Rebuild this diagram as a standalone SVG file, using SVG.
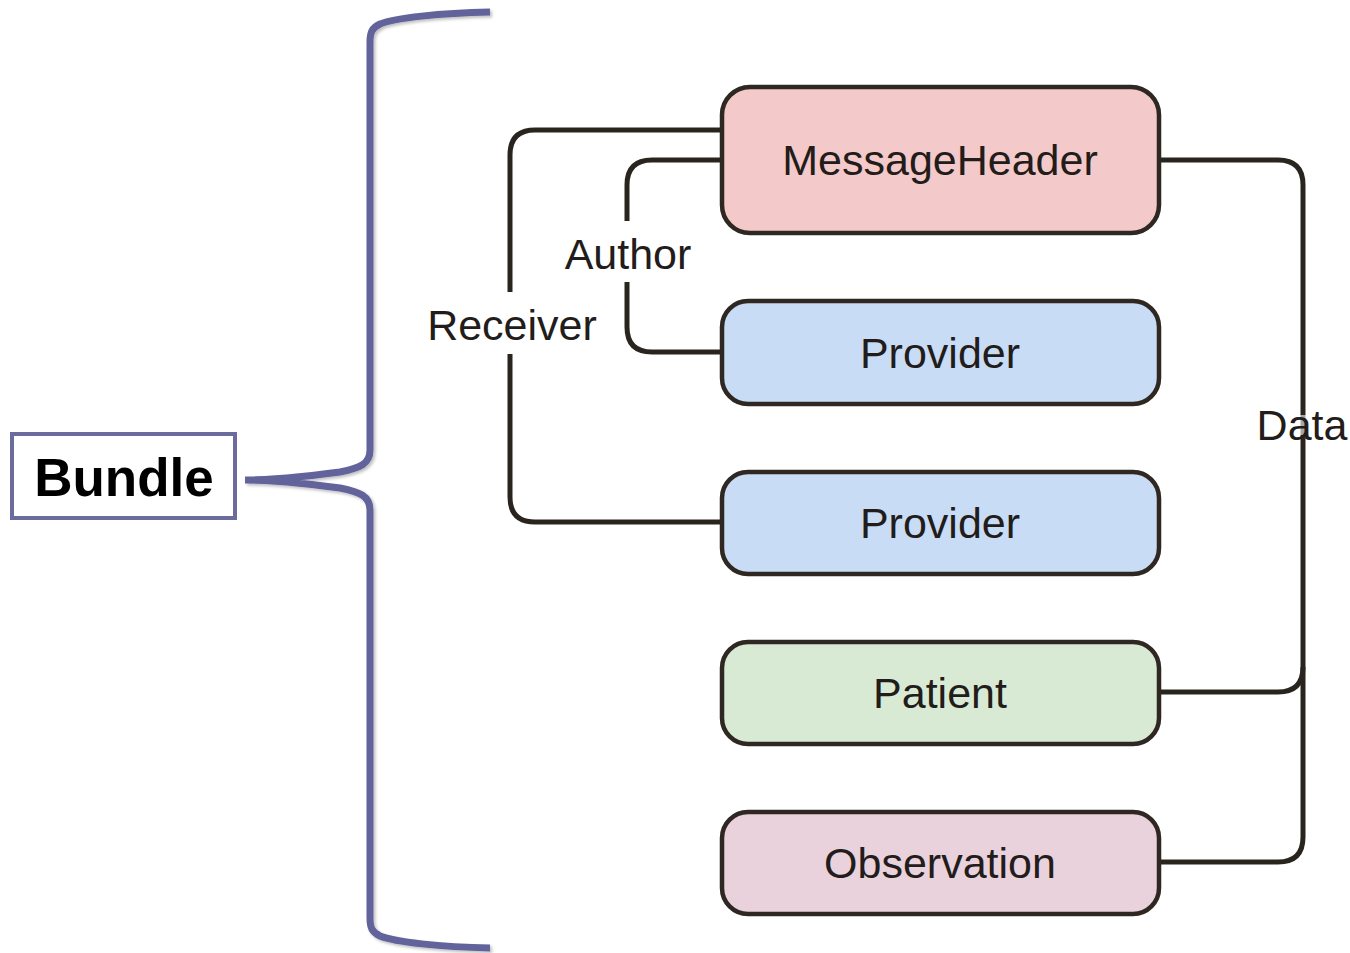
<svg xmlns="http://www.w3.org/2000/svg" width="1350" height="953" viewBox="0 0 1350 953">
  <defs>
    <filter id="soft" x="-10%" y="-10%" width="130%" height="130%">
      <feDropShadow dx="2" dy="2" stdDeviation="1.5" flood-color="#000" flood-opacity="0.25"/>
    </filter>
    <style>
      .node rect { stroke: #2e2722; stroke-width: 4.5; }
      .node text { font-family: "Liberation Sans", Arial, sans-serif; font-size: 43px; fill: #221c1a; text-anchor: middle; dominant-baseline: central; }
      .wire { fill: none; stroke: #2a241f; stroke-width: 5; }
      .lbl { font-family: "Liberation Sans", Arial, sans-serif; font-size: 43px; fill: #221c1a; text-anchor: middle; dominant-baseline: central; }
      .lblbg { fill: #ffffff; }
      .brace { fill: none; stroke: #62639b; stroke-width: 7; stroke-linecap: butt; }
    </style>
  </defs>
  <rect width="1350" height="953" fill="#ffffff"/>

  <!-- bundle brace -->
  <g id="brace" filter="url(#soft)">
    <path class="brace" d="M490,12 C440,13 395,18 380,24 C372,28 370,32 370,42 L370,450 C370,464 360,468 340,472 C310,476 275,480 245,480 C275,480 310,484 340,488 C360,492 370,496 370,510 L370,918 C370,928 372,932 380,936 C395,942 440,947 490,948"/>
  </g>

  <!-- bundle label -->
  <g id="bundle">
    <rect x="12" y="434" width="223" height="84" fill="#ffffff" stroke="#6b6b9e" stroke-width="4"/>
    <text x="124" y="477" font-family="Liberation Sans, Arial, sans-serif" font-size="53" font-weight="bold" fill="#000" text-anchor="middle" dominant-baseline="central">Bundle</text>
  </g>

  <!-- connectors -->
  <g id="connectors">
    <path class="wire" d="M722,130 L535,130 Q510,130 510,155 L510,497 Q510,522 535,522 L722,522"/>
    <path class="wire" d="M722,160 L652,160 Q627,160 627,185 L627,327 Q627,352 652,352 L722,352"/>
    <path class="wire" stroke-width="6" d="M1160,160 L1278,160 Q1303,160 1303,185 L1303,667 Q1303,692 1278,692 L1160,692"/>
    <path class="wire" stroke-width="6" d="M1303,667 L1303,837 Q1303,862 1278,862 L1160,862"/>
    <rect class="lblbg" x="556" y="221" width="144" height="61"/>
    <text class="lbl" x="628" y="254">Author</text>
    <rect class="lblbg" x="420" y="292" width="182" height="62"/>
    <text class="lbl" x="512" y="325">Receiver</text>
    <rect class="lblbg" x="1256" y="415" width="94" height="20" fill-opacity="0.6"/>
    <text class="lbl" x="1302" y="425">Data</text>
  </g>

  <g id="messageheader" class="node">
    <rect x="722" y="87" width="437" height="146" rx="28" fill="#f4c9c9"/>
    <text x="940" y="160">MessageHeader</text>
  </g>
  <g id="provider-author" class="node">
    <rect x="722" y="301" width="437" height="103" rx="26" fill="#c9dcf6"/>
    <text x="940" y="353">Provider</text>
  </g>
  <g id="provider-receiver" class="node">
    <rect x="722" y="472" width="437" height="102" rx="26" fill="#c9dcf6"/>
    <text x="940" y="523">Provider</text>
  </g>
  <g id="patient" class="node">
    <rect x="722" y="642" width="437" height="102" rx="26" fill="#d9ead4"/>
    <text x="940" y="693">Patient</text>
  </g>
  <g id="observation" class="node">
    <rect x="722" y="812" width="437" height="102" rx="26" fill="#ead2dd"/>
    <text x="940" y="863">Observation</text>
  </g>
</svg>
